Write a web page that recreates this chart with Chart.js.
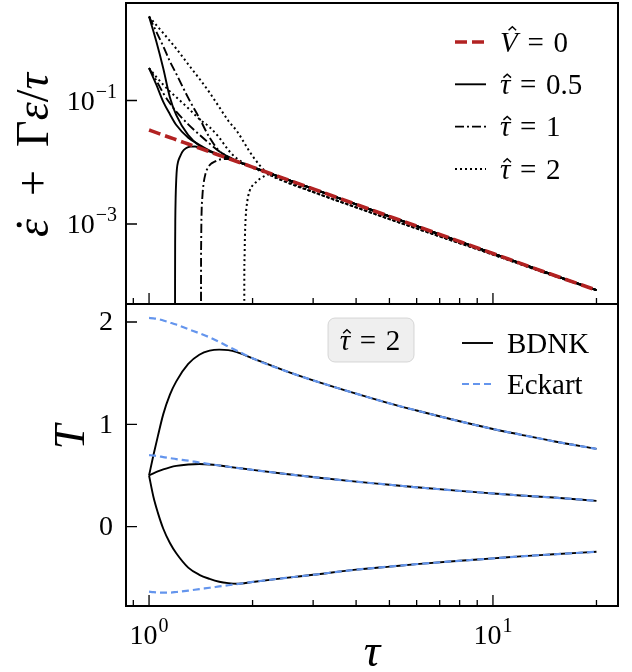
<!DOCTYPE html>
<html>
<head>
<meta charset="utf-8">
<script src="https://cdn.jsdelivr.net/npm/chart.js@4.4.1/dist/chart.umd.min.js"></script>
<style>
  html, body { margin: 0; padding: 0; background: #fff; }
  #fig { position: relative; width: 632px; height: 672px; }
  #top { position: absolute; left: 0; top: 0; width: 632px; height: 305px; }
  #bot { position: absolute; left: 0; top: 303px; width: 632px; height: 369px; }
</style>
</head>
<body>
<div id="fig">
  <div id="top"><canvas id="topChart"></canvas></div>
  <div id="bot"><canvas id="botChart"></canvas></div>
</div>
<script>
// ---- upper panel: edot + Gamma eps / tau (log-log) ----
const tauUp = [1, 1.05, 1.1, 1.15, 1.2, 1.3, 1.4, 1.5, 1.6, 1.7, 1.8, 2, 2.2, 2.5, 3, 4, 5, 7, 10, 14, 20];
const vZero    = [0.0333, 0.0302, 0.0275, 0.0252, 0.0231, 0.0197, 0.0170, 0.0148, 0.0130, 0.0115, 0.0103, 0.00833, 0.00688, 0.00533, 0.0037, 0.00208, 0.00133, 0.00068, 0.000333, 0.00017, 0.000085];
const solidHigh = [2.29, 0.9, 0.33, 0.112, 0.058, 0.0275, 0.0185, 0.0152, 0.0131, 0.0115, 0.0103, 0.00833, 0.00688, 0.00533, 0.0037, 0.00208, 0.00133, 0.00068, 0.000333, 0.00017, 0.000085];
const solidLow  = [0.335, 0.18, 0.095, 0.06, 0.040, 0.025, 0.0192, 0.0155, 0.0132, 0.0116, 0.0103, 0.00833, 0.00688, 0.00533, 0.0037, 0.00208, 0.00133, 0.00068, 0.000333, 0.00017, 0.000085];
const dashHigh  = [2.29, 1.3, 0.75, 0.43, 0.27, 0.11, 0.052, 0.025, 0.0152, 0.0122, 0.0104, 0.00833, 0.00688, 0.00533, 0.0037, 0.00208, 0.00133, 0.00068, 0.000333, 0.00017, 0.000085];
const dashLow   = [0.335, 0.21, 0.131, 0.09, 0.066, 0.041, 0.028, 0.020, 0.0150, 0.0123, 0.0105, 0.00833, 0.00688, 0.00533, 0.0037, 0.00208, 0.00133, 0.00068, 0.000333, 0.00017, 0.000085];
const dotHigh   = [2.29, 1.66, 1.23, 0.92, 0.69, 0.385, 0.226, 0.134, 0.078, 0.047, 0.032, 0.0126, 0.0068, 0.0048, 0.0033, 0.00186, 0.0012, 0.00063, 0.00032, 0.000166, 0.000085];
const dotLow    = [0.335, 0.24, 0.18, 0.14, 0.113, 0.075, 0.050, 0.037, 0.025, 0.0158, 0.0115, 0.0082, 0.0066, 0.0048, 0.0033, 0.00186, 0.0012, 0.00063, 0.00032, 0.000166, 0.000085];

// curves that start negative and cross zero (drop out of the log axis)
const tauSolidCross = [1.19, 1.1902, 1.191, 1.192, 1.195, 1.2, 1.205, 1.215, 1.23, 1.25, 1.28, 1.32, 1.36, 1.4, 1.5, 1.6, 1.8, 2, 3, 5, 10, 20];
const solidCross    = [1e-7, 1e-4, 5e-4, 1.1e-3, 2.7e-3, 5.4e-3, 7.8e-3, 0.0103, 0.0123, 0.0148, 0.0168, 0.0179, 0.018, 0.0172, 0.0148, 0.0130, 0.0103, 0.00833, 0.0037, 0.00133, 0.000333, 0.000085];
const tauDashCross  = [1.416, 1.4162, 1.417, 1.42, 1.43, 1.44, 1.46, 1.48, 1.51, 1.55, 1.6, 1.65, 1.7, 1.8, 2, 3, 5, 10, 20];
const dashCross     = [1e-7, 1e-4, 4e-4, 1.16e-3, 2.9e-3, 4.4e-3, 6.6e-3, 8.0e-3, 9.3e-3, 0.0102, 0.011, 0.0113, 0.0113, 0.0103, 0.00833, 0.0037, 0.00133, 0.000333, 0.000085];
const tauDotCross   = [1.892, 1.8922, 1.894, 1.9, 1.91, 1.93, 1.96, 2.0, 2.05, 2.1, 2.15, 2.25, 2.4, 2.7, 3, 4, 5, 7, 10, 14, 20];
const dotCross      = [1e-7, 1e-4, 2.5e-4, 6.2e-4, 1.3e-3, 2.3e-3, 3.4e-3, 4.2e-3, 4.8e-3, 5.4e-3, 5.85e-3, 6.4e-3, 5.6e-3, 4.25e-3, 3.3e-3, 1.86e-3, 1.2e-3, 6.3e-4, 3.2e-4, 1.66e-4, 8.5e-5];

// ---- lower panel: T (tau_hat = 2) ----
const tauT = [1, 1.03, 1.06, 1.1, 1.15, 1.2, 1.3, 1.4, 1.5, 1.6, 1.7, 1.8, 2, 2.5, 3, 4, 5, 6, 8, 10, 12, 15, 20];
const eckHigh  = [2.04, 2.035, 2.03, 2.015, 1.995, 1.975, 1.93, 1.89, 1.85, 1.805, 1.76, 1.72, 1.645, 1.52, 1.43, 1.30, 1.205, 1.135, 1.03, 0.955, 0.90, 0.835, 0.76];
const bdnkHigh = [0.5, 0.70, 0.88, 1.10, 1.29, 1.42, 1.59, 1.68, 1.72, 1.73, 1.725, 1.705, 1.645, 1.52, 1.43, 1.30, 1.205, 1.135, 1.03, 0.955, 0.90, 0.835, 0.76];
const eckMid   = [0.70, 0.695, 0.69, 0.68, 0.67, 0.66, 0.645, 0.627, 0.612, 0.598, 0.586, 0.575, 0.555, 0.515, 0.485, 0.44, 0.41, 0.385, 0.35, 0.325, 0.305, 0.285, 0.252];
const bdnkMid  = [0.5, 0.522, 0.54, 0.56, 0.58, 0.594, 0.607, 0.612, 0.608, 0.598, 0.586, 0.575, 0.555, 0.515, 0.485, 0.44, 0.41, 0.385, 0.35, 0.325, 0.305, 0.285, 0.252];
const eckLow   = [-0.635, -0.64, -0.643, -0.645, -0.644, -0.638, -0.625, -0.61, -0.597, -0.584, -0.572, -0.561, -0.54, -0.50, -0.47, -0.42, -0.39, -0.366, -0.333, -0.31, -0.29, -0.27, -0.245];
const bdnkLow  = [0.5, 0.29, 0.14, -0.02, -0.16, -0.26, -0.40, -0.47, -0.51, -0.538, -0.552, -0.558, -0.54, -0.50, -0.47, -0.42, -0.39, -0.366, -0.333, -0.31, -0.29, -0.27, -0.245];

// ticks and labels
const xMajor = [1, 10];
const xMajorExp = ['0', '1'];
const xMinor = [0.9, 2, 3, 4, 5, 6, 7, 8, 9, 20];
const yTopTicks = [0.1, 0.001];
const yTopExp = ['\u22121', '\u22123'];
const yBotTicks = [0, 1, 2];
const yBotLabels = ['0', '1', '2'];
const topLegend = ['V\u0302 = 0', '\u03c4\u0302 = 0.5', '\u03c4\u0302 = 1', '\u03c4\u0302 = 2'];
const botLegend = ['BDNK', 'Eckart'];
const boxText = '\u03c4\u0302 = 2';

const SERIF = '"Liberation Serif", "DejaVu Serif", serif';
const RED = '#b22222', BLUE = '#6495ed', BLACK = '#000';
const SOLID = [], DASHDOT = [9, 3, 2, 3], DOTTED = [2, 3];

const pts = (xs, ys) => xs.map((x, i) => ({ x, y: ys[i] }));

function curve(label, xs, ys, color, width, dash) {
  return {
    label, data: pts(xs, ys), borderColor: color, borderWidth: width, borderDash: dash,
    pointRadius: 0, fill: false, cubicInterpolationMode: 'monotone', borderCapStyle: 'butt'
  };
}

function font(size, italic) { return (italic ? 'italic ' : '') + size + 'px ' + SERIF; }

// draws a hat or a dot accent above the glyph just drawn
function accent(ctx, kind, ch, cx, w, y, size, italic) {
  const asc = Math.max(ctx.measureText(ch).actualBoundingBoxAscent, ctx.measureText('x').actualBoundingBoxAscent);
  const tall = asc > ctx.measureText('x').actualBoundingBoxAscent + 2;
  const top = y - asc;
  const mx = cx + w / 2 + (italic ? (tall ? 0.12 : 0.07) * size : 0);
  ctx.save();
  ctx.setLineDash([]);
  if (kind === 'hat') {
    ctx.lineWidth = Math.max(1.2, size * 0.05);
    ctx.beginPath();
    ctx.moveTo(mx - 0.13 * size, top - 0.08 * size);
    ctx.lineTo(mx, top - 0.2 * size);
    ctx.lineTo(mx + 0.13 * size, top - 0.08 * size);
    ctx.stroke();
  } else {
    ctx.beginPath();
    ctx.arc(mx, top - 0.15 * size, 0.055 * size, 0, Math.PI * 2);
    ctx.fill();
  }
  ctx.restore();
}

// parts: [[text, italic], ...]; U+0302 / U+0307 after a char become drawn accents
function rich(ctx, parts, x, y, size, align) {
  const clean = t => t.replace(/[\u0302\u0307]/g, '');
  let w = 0;
  for (const [t, it] of parts) { ctx.font = font(size, it); w += ctx.measureText(clean(t)).width; }
  let cx = align === 'center' ? x - w / 2 : align === 'right' ? x - w : x;
  ctx.textAlign = 'left';
  for (const [t, it] of parts) {
    ctx.font = font(size, it);
    for (let i = 0; i < t.length; i++) {
      const ch = t[i];
      if (ch === '\u0302' || ch === '\u0307') continue;
      const cw = ctx.measureText(ch).width;
      ctx.fillText(ch, cx, y);
      const nx = t[i + 1];
      if (nx === '\u0302') accent(ctx, 'hat', ch, cx, cw, y, size, it);
      if (nx === '\u0307') accent(ctx, 'dot', ch, cx, cw, y, size, it);
      cx += cw;
    }
  }
}

// "a = b" -> italic variable, upright rest, wider spaces round "="
function labelParts(s) {
  const i = s.indexOf(' = ');
  if (i < 0) return [[s, false]];
  return [[s.slice(0, i), true], ['\u2004=\u2004' + s.slice(i + 3), false]];
}

function powLabel(ctx, exp, x, y, align) {
  ctx.font = font(28); const wb = ctx.measureText('10').width;
  ctx.font = font(20); const we = ctx.measureText(exp).width;
  const x0 = align === 'right' ? x - wb - we - 1 : x - (wb + we + 1) / 2;
  ctx.textAlign = 'left'; ctx.textBaseline = 'alphabetic';
  ctx.font = font(28); ctx.fillText('10', x0, y);
  ctx.font = font(20); ctx.fillText(exp, x0 + wb + 1, y - 12);
}

const axisDeco = {
  id: 'axisDeco',
  afterDraw(chart, args, o) {
    const { ctx, chartArea: a } = chart;
    const xs = chart.scales.x, ys = chart.scales.y;
    ctx.save();
    ctx.setLineDash([]);
    ctx.strokeStyle = BLACK;
    ctx.fillStyle = BLACK;
    ctx.lineWidth = 1.3;
    ctx.beginPath();
    xMajor.forEach(v => { const p = xs.getPixelForValue(v); ctx.moveTo(p, a.bottom); ctx.lineTo(p, a.bottom - 11); });
    xMinor.forEach(v => { const p = xs.getPixelForValue(v); ctx.moveTo(p, a.bottom); ctx.lineTo(p, a.bottom - 6); });
    o.yTicks.forEach(v => { const p = ys.getPixelForValue(v); ctx.moveTo(a.left, p); ctx.lineTo(a.left + 11, p); });
    ctx.stroke();
    ctx.lineWidth = 2;
    ctx.strokeRect(a.left, a.top, a.right - a.left, a.bottom - a.top);

    // legend, styles taken from the datasets
    const lg = o.legend;
    lg.labels.forEach((txt, k) => {
      const ds = chart.data.datasets[lg.index[k]];
      const y = lg.y + k * lg.dy;
      ctx.strokeStyle = ds.borderColor;
      ctx.lineWidth = ds.borderWidth;
      ctx.setLineDash(ds.borderDash || []);
      ctx.beginPath(); ctx.moveTo(lg.x, y); ctx.lineTo(lg.x + lg.len, y); ctx.stroke();
      ctx.setLineDash([]);
      ctx.strokeStyle = BLACK;
      ctx.textBaseline = 'middle';
      rich(ctx, labelParts(txt), lg.x + lg.len + 14, y + 2, lg.size, 'left');
    });
    ctx.setLineDash([]);
    ctx.strokeStyle = BLACK;

    if (o.drawExtra) o.drawExtra(ctx, a, xs, ys);
    ctx.restore();
  }
};

const commonX = { type: 'logarithmic', min: 0.857, max: 23.1, display: false };
const hiddenY = { ticks: { display: false }, grid: { display: false }, border: { display: false }, afterFit: s => { s.width = 126; } };

new Chart(document.getElementById('topChart'), {
  type: 'line',
  data: {
    datasets: [
      curve('V\u0302 = 0', tauUp, vZero, RED, 3.6, [12, 5]),
      curve('\u03c4\u0302 = 0.5', tauUp, solidHigh, BLACK, 1.9, SOLID),
      curve('\u03c4\u0302 = 0.5', tauUp, solidLow, BLACK, 1.9, SOLID),
      curve('\u03c4\u0302 = 0.5', tauSolidCross, solidCross, BLACK, 1.9, SOLID),
      curve('\u03c4\u0302 = 1', tauUp, dashHigh, BLACK, 1.9, DASHDOT),
      curve('\u03c4\u0302 = 1', tauUp, dashLow, BLACK, 1.9, DASHDOT),
      curve('\u03c4\u0302 = 1', tauDashCross, dashCross, BLACK, 1.9, DASHDOT),
      curve('\u03c4\u0302 = 2', tauUp, dotHigh, BLACK, 2, DOTTED),
      curve('\u03c4\u0302 = 2', tauUp, dotLow, BLACK, 2, DOTTED),
      curve('\u03c4\u0302 = 2', tauDotCross, dotCross, BLACK, 2, DOTTED)
    ]
  },
  options: {
    responsive: true, maintainAspectRatio: false, animation: false,
    layout: { padding: { top: 3, right: 14, bottom: 1, left: 0 } },
    scales: {
      x: commonX,
      y: Object.assign({ type: 'logarithmic', min: 5.06e-5, max: 3.79 }, hiddenY)
    },
    plugins: {
      legend: { display: false }, tooltip: { enabled: false },
      axisDeco: {
        yTicks: yTopTicks,
        legend: { labels: topLegend, index: [0, 1, 4, 7], x: 455, y: 42, dy: 42.3, len: 31, size: 29 },
        drawExtra(ctx, a, xs, ys) {
          yTopTicks.forEach((v, i) => powLabel(ctx, yTopExp[i], 117, ys.getPixelForValue(v) + 9.5, 'right'));
          ctx.save();
          ctx.translate(36, 155);
          ctx.rotate(-Math.PI / 2);
          ctx.textBaseline = 'middle';
          rich(ctx, [['\u03b5\u0307', true], ['\u2002+\u2002\u0393', false], ['\u03b5', true], ['/', false], ['\u03c4', true]], 0, 0, 46, 'center');
          ctx.restore();
        }
      }
    }
  },
  plugins: [axisDeco]
});

new Chart(document.getElementById('botChart'), {
  type: 'line',
  data: {
    datasets: [
      curve('Eckart', tauT, eckHigh, BLUE, 2.2, [7, 4]),
      curve('Eckart', tauT, eckMid, BLUE, 2.2, [7, 4]),
      curve('Eckart', tauT, eckLow, BLUE, 2.2, [7, 4]),
      curve('BDNK', tauT, bdnkHigh, BLACK, 1.9, SOLID),
      curve('BDNK', tauT, bdnkMid, BLACK, 1.9, SOLID),
      curve('BDNK', tauT, bdnkLow, BLACK, 1.9, SOLID)
    ]
  },
  options: {
    responsive: true, maintainAspectRatio: false, animation: false,
    layout: { padding: { top: 1, right: 14, bottom: 66, left: 0 } },
    scales: {
      x: commonX,
      y: Object.assign({ type: 'linear', min: -0.775, max: 2.176 }, hiddenY)
    },
    plugins: {
      legend: { display: false }, tooltip: { enabled: false },
      axisDeco: {
        yTicks: yBotTicks,
        legend: { labels: botLegend, index: [3, 0], x: 462, y: 40, dy: 41, len: 31, size: 29 },
        drawExtra(ctx, a, xs, ys) {
          // y tick labels
          ctx.font = font(28);
          ctx.textAlign = 'right';
          ctx.textBaseline = 'middle';
          yBotTicks.forEach((v, i) => ctx.fillText(yBotLabels[i], 113, ys.getPixelForValue(v) + 1));
          // tau_hat = 2 box
          ctx.fillStyle = 'rgba(225,225,225,0.55)';
          ctx.strokeStyle = 'rgba(200,200,200,0.7)';
          ctx.lineWidth = 1;
          ctx.beginPath(); ctx.roundRect(328, 15, 86, 44, 7); ctx.fill(); ctx.stroke();
          ctx.fillStyle = BLACK;
          ctx.strokeStyle = BLACK;
          ctx.textBaseline = 'middle';
          rich(ctx, labelParts(boxText), 370, 39, 29, 'center');
          // x tick labels
          xMajor.forEach((v, i) => powLabel(ctx, xMajorExp[i], xs.getPixelForValue(v), a.bottom + 38, 'center'));
          // axis titles
          ctx.textBaseline = 'alphabetic';
          rich(ctx, [['\u03c4', true]], (a.left + a.right) / 2, a.bottom + 60, 46, 'center');
          ctx.save();
          ctx.translate(72, 134);
          ctx.rotate(-Math.PI / 2);
          ctx.textBaseline = 'middle';
          rich(ctx, [['T', true]], 0, 0, 44, 'center');
          ctx.restore();
        }
      }
    }
  },
  plugins: [axisDeco]
});
</script>
</body>
</html>
